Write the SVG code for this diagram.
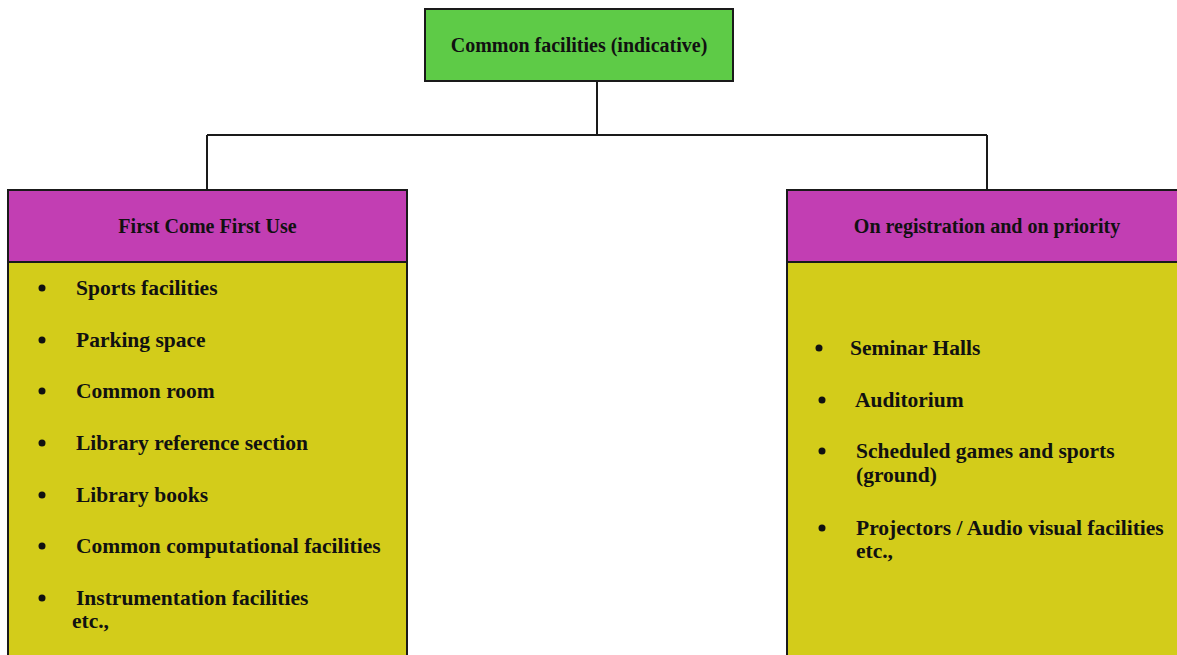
<svg xmlns="http://www.w3.org/2000/svg" width="1177" height="655" viewBox="0 0 1177 655">
<style>
.box{stroke:#1a1a1a;stroke-width:2}
.green{fill:#5ecb47}
.mag{fill:#c23eb3}
.yel{fill:#d3cc1a}
.t{font-family:"Liberation Serif","Times New Roman",serif;font-weight:bold;fill:#111}
.h{font-size:20px}
.i{font-size:21.5px}
.conn{stroke:#1a1a1a;stroke-width:2;fill:none}
.dot{fill:#111}
</style>
<rect width="1177" height="655" fill="#ffffff"/>
<g id="connectors">
<path class="conn" d="M597 81V135M207 135H987M207 135V190M987 135V190"/>
</g>
<g id="root">
<rect class="box green" x="425" y="9" width="308" height="72"/>
<text class="t h" x="579" y="52" text-anchor="middle">Common facilities (indicative)</text>
</g>
<g id="left">
<rect class="box mag" x="8" y="190" width="399" height="72"/>
<text class="t h" x="207.5" y="233" text-anchor="middle">First Come First Use</text>
<rect class="box yel" x="8" y="262" width="399" height="400"/>
<g class="t i">
<text x="76" y="295">Sports facilities</text>
<text x="76" y="347">Parking space</text>
<text x="76" y="398">Common room</text>
<text x="76" y="450">Library reference section</text>
<text x="76" y="502">Library books</text>
<text x="76" y="553">Common computational facilities</text>
<text x="76" y="605">Instrumentation facilities</text>
<text x="72" y="628">etc.,</text>
</g>
<circle class="dot" cx="42" cy="288" r="3.5"/>
<circle class="dot" cx="42" cy="340" r="3.5"/>
<circle class="dot" cx="42" cy="391" r="3.5"/>
<circle class="dot" cx="42" cy="443" r="3.5"/>
<circle class="dot" cx="42" cy="495" r="3.5"/>
<circle class="dot" cx="42" cy="546" r="3.5"/>
<circle class="dot" cx="42" cy="598" r="3.5"/>
</g>
<g id="right">
<rect class="box mag" x="787" y="190" width="400" height="72"/>
<text class="t h" x="987" y="233" text-anchor="middle">On registration and on priority</text>
<rect class="box yel" x="787" y="262" width="400" height="400"/>
<g class="t i">
<text x="850" y="355">Seminar Halls</text>
<text x="855" y="407">Auditorium</text>
<text x="856" y="458">Scheduled games and sports</text>
<text x="856" y="482">(ground)</text>
<text x="856" y="535">Projectors / Audio visual facilities</text>
<text x="856" y="558">etc.,</text>
</g>
<circle class="dot" cx="819" cy="348" r="3.5"/>
<circle class="dot" cx="822" cy="400" r="3.5"/>
<circle class="dot" cx="822" cy="451" r="3.5"/>
<circle class="dot" cx="822" cy="528" r="3.5"/>
</g>
</svg>
